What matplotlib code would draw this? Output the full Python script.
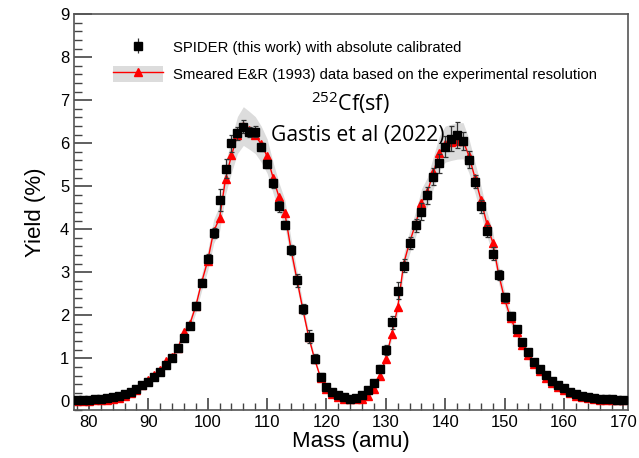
import matplotlib

matplotlib.use("Agg")
import matplotlib.pyplot as plt
import numpy as np
from matplotlib.lines import Line2D
from matplotlib.patches import Patch
from matplotlib.ticker import MultipleLocator

plt.rcParams["font.family"] = ["Liberation Sans", "DejaVu Sans"]

# mass number, one point per amu
mass = np.arange(78, 171)

# SPIDER yields (%) and their error bars
spider_yield = [
    0.03, 0.03, 0.04, 0.05, 0.06, 0.07, 0.09, 0.12, 0.17, 0.22,
    0.29, 0.37, 0.46, 0.56, 0.68, 0.84, 1.01, 1.24, 1.47, 1.76,
    2.22, 2.76, 3.32, 3.92, 4.68, 5.41, 6.00, 6.23, 6.38, 6.26,
    6.27, 5.91, 5.52, 5.07, 4.53, 4.10, 3.52, 2.81, 2.14, 1.50,
    0.99, 0.57, 0.34, 0.22, 0.14, 0.09, 0.06, 0.08, 0.14, 0.26,
    0.43, 0.76, 1.19, 1.84, 2.57, 3.15, 3.68, 4.09, 4.41, 4.79,
    5.22, 5.53, 5.92, 6.11, 6.19, 6.05, 5.62, 5.11, 4.53, 3.96,
    3.43, 2.93, 2.42, 1.99, 1.68, 1.39, 1.15, 0.92, 0.76, 0.61,
    0.47, 0.39, 0.32, 0.22, 0.16, 0.12, 0.10, 0.08, 0.06, 0.05,
    0.05, 0.04, 0.04,
]
spider_err = [
    0.01, 0.01, 0.01, 0.01, 0.01, 0.02, 0.02, 0.02, 0.02, 0.03,
    0.03, 0.03, 0.03, 0.04, 0.04, 0.05, 0.05, 0.05, 0.06, 0.06,
    0.08, 0.09, 0.10, 0.12, 0.25, 0.22, 0.20, 0.15, 0.15, 0.12,
    0.12, 0.10, 0.10, 0.10, 0.12, 0.10, 0.12, 0.15, 0.12, 0.15,
    0.10, 0.08, 0.05, 0.04, 0.03, 0.03, 0.03, 0.03, 0.03, 0.04,
    0.06, 0.08, 0.12, 0.15, 0.20, 0.15, 0.15, 0.15, 0.20, 0.20,
    0.20, 0.22, 0.25, 0.30, 0.30, 0.20, 0.20, 0.15, 0.15, 0.15,
    0.15, 0.12, 0.10, 0.08, 0.07, 0.06, 0.05, 0.05, 0.04, 0.04,
    0.03, 0.03, 0.03, 0.02, 0.02, 0.02, 0.01, 0.01, 0.01, 0.01,
    0.01, 0.01, 0.01,
]

# E&R (1993) smeared yields (%) and the width of the grey band
er_yield = [
    0.00, 0.01, 0.01, 0.02, 0.03, 0.04, 0.06, 0.08, 0.13, 0.19,
    0.27, 0.38, 0.50, 0.62, 0.72, 0.93, 1.02, 1.25, 1.60, 1.80,
    2.22, 2.78, 3.27, 3.95, 4.26, 5.17, 5.72, 6.19, 6.40, 6.30,
    6.19, 5.98, 5.70, 5.20, 4.75, 4.37, 3.55, 2.85, 2.15, 1.50,
    0.98, 0.55, 0.29, 0.18, 0.10, 0.06, 0.05, 0.05, 0.06, 0.12,
    0.29, 0.60, 0.99, 1.57, 2.19, 3.20, 3.70, 4.12, 4.62, 4.87,
    5.32, 5.77, 5.98, 6.02, 6.05, 6.06, 5.70, 5.20, 4.69, 4.13,
    3.69, 2.95, 2.38, 1.94, 1.62, 1.32, 1.08, 0.86, 0.70, 0.55,
    0.42, 0.34, 0.27, 0.19, 0.13, 0.09, 0.07, 0.05, 0.04, 0.03,
    0.03, 0.02, 0.02,
]
er_band = [
    0.01, 0.01, 0.01, 0.01, 0.01, 0.01, 0.01, 0.01, 0.01, 0.02,
    0.02, 0.03, 0.04, 0.04, 0.05, 0.07, 0.07, 0.09, 0.11, 0.13,
    0.16, 0.19, 0.23, 0.28, 0.30, 0.36, 0.40, 0.43, 0.45, 0.44,
    0.43, 0.42, 0.40, 0.36, 0.33, 0.31, 0.25, 0.20, 0.15, 0.11,
    0.07, 0.04, 0.02, 0.01, 0.01, 0.01, 0.01, 0.01, 0.01, 0.01,
    0.02, 0.04, 0.07, 0.11, 0.15, 0.22, 0.26, 0.29, 0.32, 0.34,
    0.37, 0.40, 0.42, 0.42, 0.42, 0.42, 0.40, 0.36, 0.33, 0.29,
    0.26, 0.21, 0.17, 0.14, 0.11, 0.09, 0.08, 0.06, 0.05, 0.04,
    0.03, 0.02, 0.02, 0.01, 0.01, 0.01, 0.01, 0.01, 0.01, 0.01,
    0.01, 0.01, 0.01,
]

er_yield = np.asarray(er_yield)
er_band = np.asarray(er_band)

fig = plt.figure(figsize=(6.39, 4.58), dpi=100)
ax = fig.add_axes([0.116, 0.105, 0.867, 0.864])

band_color = "#dcdcdc"
ax.fill_between(mass, er_yield - er_band, er_yield + er_band,
                color=band_color, lw=0, zorder=1)
ax.plot(mass, er_yield, color="red", lw=1.0, marker="^", ms=6,
        mec="red", mfc="red", zorder=2)
ax.errorbar(mass, spider_yield, yerr=spider_err, fmt="s", color="black",
            ms=5.5, ecolor="#333333", elinewidth=0.9, capsize=1.8,
            capthick=0.9, zorder=3)

ax.set_xlim(77.5, 170.8)
ax.set_ylim(-0.2, 9)
ax.xaxis.set_major_locator(MultipleLocator(10))
ax.xaxis.set_minor_locator(MultipleLocator(2))
ax.yaxis.set_major_locator(MultipleLocator(1))
ax.yaxis.set_minor_locator(MultipleLocator(0.2))
ax.tick_params(which="both", direction="in", color="#444444",
               labelsize=12, top=False, right=False)
ax.tick_params(which="major", axis="y", length=13, width=1.2)
ax.tick_params(which="minor", axis="y", length=6, width=1.0)
ax.tick_params(which="major", axis="x", length=9, width=1.2)
ax.tick_params(which="minor", axis="x", length=5, width=1.0)
for side in ax.spines.values():
    side.set_color("#555555")
    side.set_linewidth(1.2)

ax.set_xlabel("Mass (amu)", fontsize=16, labelpad=1)
ax.set_ylabel("Yield (%)", fontsize=16, labelpad=10)

spider_handle = ax.errorbar([], [], yerr=[], fmt="s", color="black", ms=5.5,
                            ecolor="#333333", elinewidth=0.9, capsize=1.8)
er_handle = (Patch(facecolor=band_color, edgecolor="none"),
             Line2D([], [], color="red", lw=1.0, marker="^", ms=6))
ax.legend([spider_handle, er_handle],
          ["SPIDER (this work) with absolute calibrated",
           "Smeared E&R (1993) data based on the experimental resolution"],
          loc="upper left", bbox_to_anchor=(0.07, 0.937), frameon=False,
          fontsize=10.7, handlelength=3.4, handleheight=1.35,
          handletextpad=0.67, labelspacing=0.67, borderpad=0,
          borderaxespad=0)

fig.text(0.548, 0.775, r"$\mathregular{^{252}}$Cf(sf)", fontsize=15.5,
         family="Open Sans", ha="center", va="center")
fig.text(0.560, 0.705, "Gastis et al (2022)", fontsize=15.2,
         family="Open Sans", ha="center", va="center")

fig.savefig("out.png", dpi=100)
